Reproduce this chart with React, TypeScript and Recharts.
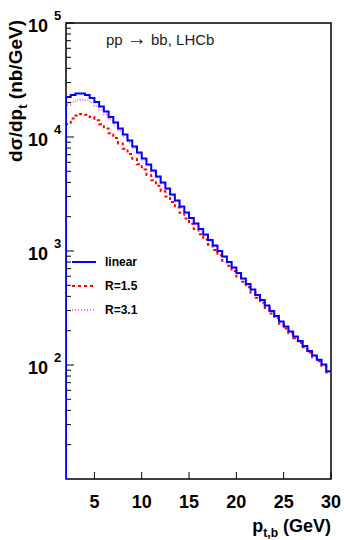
import React from 'react';
import { LineChart, Line, XAxis, YAxis, ReferenceArea, Legend } from 'recharts';

// lower bin edges (GeV), 0.5 GeV bins from 2 to 30
const binLow = [
  2, 2.5, 3, 3.5, 4, 4.5, 5, 5.5, 6, 6.5, 7, 7.5, 8, 8.5, 9, 9.5, 10, 10.5, 11, 11.5,
  12, 12.5, 13, 13.5, 14, 14.5, 15, 15.5, 16, 16.5, 17, 17.5, 18, 18.5, 19, 19.5,
  20, 20.5, 21, 21.5, 22, 22.5, 23, 23.5, 24, 24.5, 25, 25.5, 26, 26.5, 27, 27.5,
  28, 28.5, 29, 29.5,
];
const ptMax = 30;

// dsigma/dpt (nb/GeV)
const linear = [
  22430, 23360, 24080, 24080, 23360, 21980, 20280, 18510, 16740, 14980, 13400, 11880,
  10520, 9320, 8255, 7310, 6476, 5738, 5083, 4503, 3990, 3534, 3131, 2773, 2457, 2176,
  1947, 1743, 1560, 1396, 1249, 1117, 1000, 895, 801, 717, 641, 574, 513, 459, 411, 372,
  333, 298, 269, 241, 218, 197, 178, 162, 147, 133, 121, 111, 101, 88,
];
const r15 = [
  13000, 14500, 15400, 15900, 15650, 14950, 14000, 12960, 11890, 10790, 9780, 8790,
  7890, 7080, 6440, 5770, 5180, 4650, 4170, 3740, 3350, 3000, 2690, 2410, 2160, 1926,
  1733, 1560, 1404, 1263, 1137, 1022, 920, 823, 741, 667, 596, 537, 482, 431, 388, 352,
  316, 283, 257, 230, 209, 189, 172, 156, 143, 129, 117, 108, 98, 86,
];
const r31 = [
  19070, 20320, 21190, 21430, 21020, 20000, 18660, 17210, 15740, 14160, 12730, 11350,
  10100, 8950, 7970, 7050, 6280, 5570, 4930, 4390, 3890, 3450, 3070, 2720, 2410, 2130,
  1918, 1717, 1537, 1377, 1232, 1102, 987, 884, 791, 708, 633, 567, 507, 454, 407, 368,
  330, 295, 266, 239, 216, 195, 176, 160, 146, 132, 120, 110, 100, 87,
];

const xTicks = [5, 10, 15, 20, 25, 30];
const yMin = 10;
const yMax = 100000;
const yTicks = [
  20, 30, 40, 50, 60, 70, 80, 90, 100,
  200, 300, 400, 500, 600, 700, 800, 900, 1000,
  2000, 3000, 4000, 5000, 6000, 7000, 8000, 9000, 10000,
  20000, 30000, 40000, 50000, 60000, 70000, 80000, 90000, 100000,
];

const series = [
  { key: 'r15', name: 'R=1.5', color: '#ff0000', width: 2, dash: '3 3' },
  { key: 'r31', name: 'R=3.1', color: '#ff44ff', width: 1.5, dash: '1 2' },
  { key: 'linear', name: 'linear', color: '#0000ff', width: 2, dash: undefined },
];
const legendOrder = ['linear', 'r15', 'r31'];

const FONT = '"Liberation Sans", Arial, sans-serif';

// histogram: floor at the left edge, one point per bin edge, closing point at 30
const data = [
  { pt: binLow[0], linear: yMin, r15: yMin, r31: yMin },
  ...binLow.map((lo, i) => ({ pt: lo, linear: linear[i], r15: r15[i], r31: r31[i] })),
  {
    pt: ptMax,
    linear: linear[linear.length - 1],
    r15: r15[r15.length - 1],
    r31: r31[r31.length - 1],
  },
];

const YTick = (props: any) => {
  const { x, y, payload } = props;
  const v = payload.value;
  const exp = Math.round(Math.log10(v));
  const major = Math.abs(v - Math.pow(10, exp)) < 1e-6;
  return (
    <g>
      <line x1={x} x2={x + (major ? 8 : 5)} y1={y} y2={y} stroke="#000" strokeWidth={1} />
      {major && (
        <text x={x - 18} y={y + 9} textAnchor="end" fontSize={18} fontWeight="bold" fontFamily={FONT} fill="#000">
          10
        </text>
      )}
      {major && (
        <text x={x - 12} y={y - 3} textAnchor="start" fontSize={13} fontWeight="bold" fontFamily={FONT} fill="#000">
          {exp}
        </text>
      )}
    </g>
  );
};

const XTick = (props: any) => {
  const { x, y, payload } = props;
  return (
    <g>
      <line x1={x} x2={x} y1={y} y2={y - 7} stroke="#000" strokeWidth={1} />
      <text x={x} y={y + 29} textAnchor="middle" fontSize={18} fontWeight="bold" fontFamily={FONT} fill="#000">
        {payload.value}
      </text>
    </g>
  );
};

const LegendBox = () => (
  <svg width={90} height={70} style={{ overflow: 'visible' }}>
    {legendOrder.map((k, i) => {
      const s = series.find((d) => d.key === k)!;
      const cy = 10 + i * 24;
      return (
        <g key={k}>
          <line x1={2} x2={26} y1={cy} y2={cy} stroke={s.color} strokeWidth={s.width} strokeDasharray={s.dash} />
          <text x={35} y={cy + 4} fontSize={12} fontWeight="bold" fontFamily={FONT} fill="#000">
            {s.name}
          </text>
        </g>
      );
    })}
  </svg>
);

export default function App() {
  return (
    <div style={{ position: 'absolute', left: 0, top: 0, width: 344, height: 540, background: '#fff' }}>
      <LineChart width={344} height={540} data={data} margin={{ top: 23, right: 13, bottom: 0, left: 0 }}>
        <XAxis
          dataKey="pt"
          type="number"
          domain={[binLow[0], ptMax]}
          ticks={xTicks}
          interval={0}
          allowDataOverflow
          height={61}
          axisLine={false}
          tickLine={false}
          tickSize={0}
          tickMargin={0}
          tick={<XTick />}
          label={() => (
            <text x={331} y={532} textAnchor="end" fontSize={18} fontWeight="bold" fontFamily={FONT} fill="#000">
              p
              <tspan fontSize={12} dy={5}>t,b</tspan>
              <tspan dy={-5}> (GeV)</tspan>
            </text>
          )}
        />
        <YAxis
          type="number"
          scale="log"
          domain={[yMin, yMax]}
          ticks={yTicks}
          interval={0}
          allowDataOverflow
          width={66}
          axisLine={false}
          tickLine={false}
          tickSize={0}
          tickMargin={0}
          tick={<YTick />}
          label={() => (
            <text
              x={22}
              y={20}
              transform="rotate(-90, 22, 20)"
              textAnchor="end"
              fontSize={19}
              fontWeight="bold"
              fontFamily={FONT}
              fill="#000"
            >
              dσ/dp
              <tspan fontSize={13} dy={5}>t</tspan>
              <tspan dy={-5}> (nb/GeV)</tspan>
            </text>
          )}
        />
        <ReferenceArea
          x1={binLow[0]}
          x2={ptMax}
          y1={yMin}
          y2={yMax}
          fill="none"
          stroke="#000"
          strokeWidth={1.5}
          ifOverflow="visible"
          label={(p: any) => (
            <text
              x={p.viewBox.x + 40}
              y={p.viewBox.y + 22}
              fontSize={15}
              fontFamily={FONT}
              fill="#222"
            >
              pp <tspan fontSize={20}>→</tspan> bb, LHCb
            </text>
          )}
        />
        {series.map((s) => (
          <Line
            key={s.key}
            dataKey={s.key}
            name={s.name}
            type="stepAfter"
            stroke={s.color}
            strokeWidth={s.width}
            strokeDasharray={s.dash}
            dot={false}
            activeDot={false}
            isAnimationActive={false}
          />
        ))}
        <Legend
          layout="vertical"
          align="center"
          verticalAlign="middle"
          wrapperStyle={{ left: 70, top: 252, width: 90 }}
          content={<LegendBox />}
        />
      </LineChart>
    </div>
  );
}
